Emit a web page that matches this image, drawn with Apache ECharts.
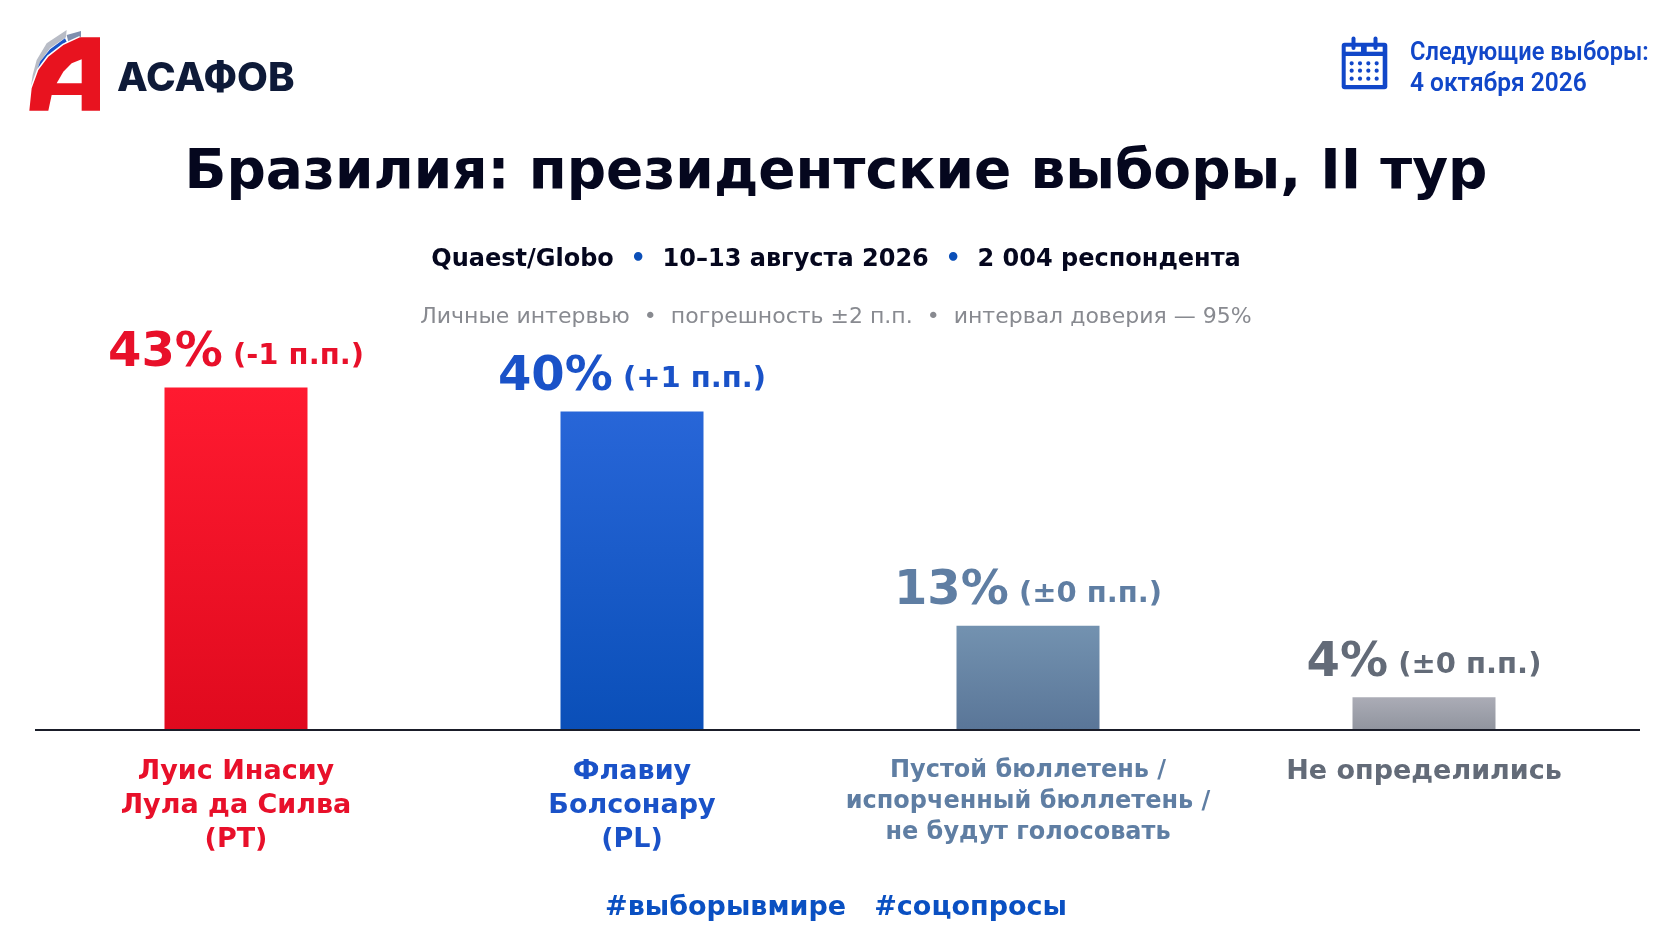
<!DOCTYPE html>
<html><head><meta charset="utf-8">
<style>html,body{margin:0;padding:0;background:#fff}#c{width:1672px;height:941px}</style>
<script src="https://cdn.jsdelivr.net/npm/echarts@6/dist/echarts.min.js"></script>
</head><body><div id="c"></div>
<script>
const categories = ['Луис Инасиу\nЛула да Силва\n(PT)', 'Флавиу\nБолсонару\n(PL)', 'Пустой бюллетень /\nиспорченный бюллетень /\nне будут голосовать', 'Не определились'];
const shares = [43, 40, 13, 4];
const changes = ['(-1 п.п.)', '(+1 п.п.)', '(±0 п.п.)', '(±0 п.п.)'];
const textColors = ['#e8102a', '#1a52c8', '#5f7ea3', '#636b78'];
const barTop = ['#ff1a30', '#2866d8', '#7392b0', '#abacb6'];
const barBottom = ['#e00a1e', '#0a4fb8', '#5a7698', '#91959f'];
const labelSizes = [27, 27, 24, 27];
const labelLines = [34, 34, 31, 34];

const FONT = '"DejaVu Sans"';
const chart = echarts.init(document.getElementById('c'), null, {renderer:'canvas'});
const s3 = p => p.map(q => [q[0]/3, q[1]/3]);
const BLUE = '#1147c9';
const calDots = [];
[155,180,205,230].forEach(x => [190,212,236].forEach(y => calDots.push({
  type:'circle', shape:{cx:1300+x/3, cy:y/3, r:2.1}, style:{fill:BLUE}, silent:true
})));

const rich = {};
textColors.forEach((c,i) => {
  rich['v'+i] = {fontFamily:FONT, fontWeight:'bold', fontSize:48, color:c};
  rich['d'+i] = {fontFamily:FONT, fontWeight:'bold', fontSize:29, color:c, padding:[5,0,0,0]};
});
const logoCurve = [[88,332],[95,265],[115,210],[145,170],[190,135],[240,112]];

chart.setOption({
  animation:false,
  backgroundColor:'#ffffff',
  title:[
    {text:'Бразилия: президентские выборы, II тур', left:'center', top:141,
     textStyle:{fontFamily:FONT, fontWeight:'bold', fontSize:55, color:'#05071e'}},
    {text:'{t|Quaest/Globo}{b|  •  }{t|10–13 августа 2026}{b|  •  }{t|2 004 респондента}', left:'center', top:243,
     textStyle:{rich:{t:{fontFamily:FONT, fontWeight:'bold', fontSize:24, color:'#05071e'},
                      b:{fontFamily:FONT, fontWeight:'bold', fontSize:24, color:'#0b4fb8'}}}},
    {text:'Личные интервью  •  погрешность ±2 п.п.  •  интервал доверия — 95%', left:'center', top:301,
     textStyle:{fontFamily:FONT, fontWeight:'normal', fontSize:22, color:'#888a90'}},
    {text:'#выборывмире   #соцопросы', left:'center', top:889,
     textStyle:{fontFamily:FONT, fontWeight:'bold', fontSize:27, color:'#0a50c2'}}
  ],
  grid:{left:38, width:1584, top:332, bottom:212, containLabel:false},
  xAxis:{type:'category',
    data:categories.map((c,i)=>({value:c, textStyle:{color:textColors[i], fontSize:labelSizes[i], lineHeight:labelLines[i]}})),
    axisLine:{show:false}, axisTick:{show:false},
    axisLabel:{interval:0, margin:26, fontFamily:FONT, fontWeight:'bold', verticalAlign:'top'}},
  yAxis:{type:'value', min:0, max:50, show:false},
  series:[{type:'bar', barWidth:143,
    data:shares.map((v,i)=>({value:v, itemStyle:{color:{type:'linear',x:0,y:0,x2:0,y2:1,
      colorStops:[{offset:0,color:barTop[i]},{offset:1,color:barBottom[i]}]}}})),
    label:{show:true, position:'top', distance:10,
      formatter:p=>`{v${p.dataIndex}|${p.value}%}{d${p.dataIndex}| ${changes[p.dataIndex]}}`, rich}
  }],
  graphic:[
    {type:'rect', shape:{x:35,y:729,width:1605,height:2}, style:{fill:'#1a1d29'}, silent:true, z:10},
    // logo
    {type:'polygon', shape:{points:s3([[92,265],[98,225],[110,180],[140,130],[200,90],[198,112],[150,145],[120,185],[98,250]])}, style:{fill:'#b8bcc6'}},
    {type:'polygon', shape:{points:s3([[200,105],[243,93],[243,110],[205,125]])}, style:{fill:'#7f8fae'}},
    {type:'polygon', shape:{points:s3([[98,250],[120,185],[150,148],[195,115],[200,125],[160,155],[130,190],[105,240]])}, style:{fill:'#1a55c8'}},
    {type:'polyline', shape:{points:s3(logoCurve)}, style:{stroke:'#ffffff', lineWidth:3, fill:null}},
    {type:'polygon', shape:{points:s3([...logoCurve,[300,112],[300,332],[245,332],[245,285],[155,285],[145,332]])}, style:{fill:'#e8131f'}},
    {type:'polygon', shape:{points:s3([[170,250],[190,215],[215,190],[245,178],[245,250]])}, style:{fill:'#ffffff'}},
    {type:'text', x:117, y:79, style:{text:'АСАФОВ', font:'800 40px Inter', fill:'#0e1a38', verticalAlign:'middle'}},
    // calendar
    {type:'rect', shape:{x:1341.7,y:42.7,width:45.6,height:46.6,r:3}, style:{fill:BLUE}},
    {type:'rect', shape:{x:1345.7,y:46.7,width:15.3,height:5}, style:{fill:'#fff'}},
    {type:'rect', shape:{x:1366.7,y:46.7,width:16,height:5}, style:{fill:'#fff'}},
    {type:'rect', shape:{x:1345.7,y:56,width:37,height:29}, style:{fill:'#fff'}},
    {type:'rect', shape:{x:1351.5,y:36.5,width:4,height:13.5,r:2}, style:{fill:BLUE}},
    {type:'rect', shape:{x:1373.5,y:36.5,width:4,height:13.5,r:2}, style:{fill:BLUE}},
    ...calDots,
    {type:'text', x:1410, y:54, scaleX:0.945, style:{text:'Следующие выборы:', font:'600 25px Roboto', fill:BLUE, verticalAlign:'middle'}},
    {type:'text', x:1410, y:85, scaleX:0.98, style:{text:'4 октября 2026', font:'600 25px Roboto', fill:BLUE, verticalAlign:'middle'}}
  ]
});
</script></body></html>
